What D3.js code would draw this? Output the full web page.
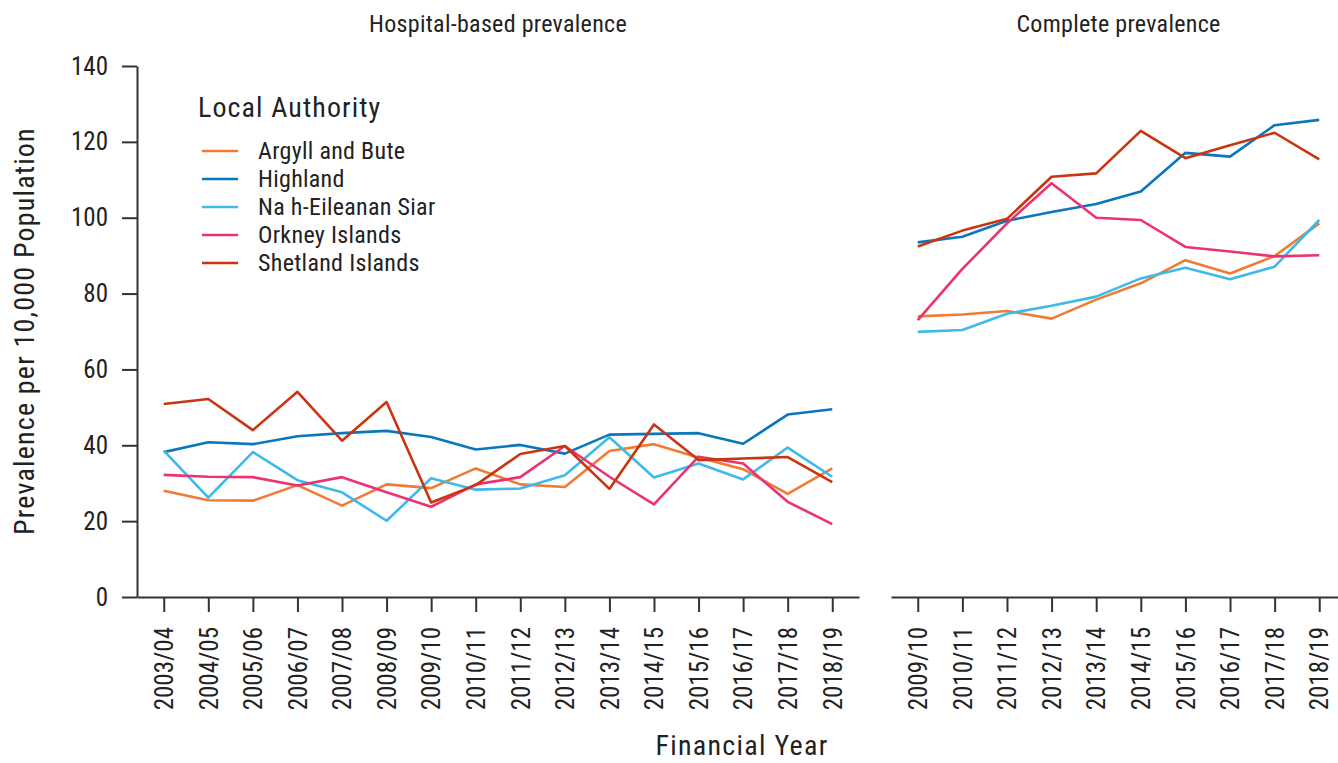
<!DOCTYPE html>
<html><head><meta charset="utf-8">
<script src="https://cdn.jsdelivr.net/npm/d3@7/dist/d3.min.js"></script>
<style>
body{margin:0;background:#fff}
svg text{font-family:'Roboto Condensed','Liberation Sans Narrow','Roboto',sans-serif;fill:#222}
</style>
</head><body>
<svg id="chart" width="1338" height="763"></svg>
<script>
// ---- data ----
const hospitalYears = ["2003/04","2004/05","2005/06","2006/07","2007/08","2008/09","2009/10","2010/11","2011/12","2012/13","2013/14","2014/15","2015/16","2016/17","2017/18","2018/19"];
const completeYears = ["2009/10","2010/11","2011/12","2012/13","2013/14","2014/15","2015/16","2016/17","2017/18","2018/19"];
const authorities = ["Argyll and Bute","Highland","Na h-Eileanan Siar","Orkney Islands","Shetland Islands"];
const authorityColors = ["#F07B35","#0A77BD","#3DB9EA","#EC3273","#C8350F"];
const yTicks = [0,20,40,60,80,100,120,140];

const hospArgyll   = [28.0,25.5,25.4,29.5,24.1,29.7,28.7,33.9,29.7,29.0,38.5,40.3,36.8,33.7,27.2,33.9];
const hospHighland = [38.2,40.8,40.3,42.4,43.2,43.8,42.2,38.9,40.1,37.8,42.8,43.0,43.2,40.4,48.1,49.5];
const hospSiar     = [38.6,26.2,38.2,30.8,27.6,20.1,31.3,28.3,28.6,32.1,42.1,31.5,35.2,31.0,39.4,31.7];
const hospOrkney   = [32.2,31.7,31.6,29.4,31.6,27.6,23.8,29.7,31.6,39.8,31.7,24.4,37.0,35.2,25.1,19.2];
const hospShetland = [50.9,52.2,44.0,54.1,41.2,51.4,24.9,29.5,37.7,39.8,28.5,45.5,36.1,36.5,36.9,30.3];

const compArgyll   = [74.0,74.5,75.4,73.4,78.4,82.7,88.8,85.3,89.9,98.5];
const compHighland = [93.5,95.0,99.2,101.5,103.6,106.9,117.1,116.1,124.4,125.8];
const compSiar     = [69.9,70.4,74.7,76.8,79.2,84.0,86.8,83.8,87.1,99.4];
const compOrkney   = [73.0,86.5,98.5,109.1,100.0,99.4,92.3,91.1,89.8,90.1];
const compShetland = [92.4,96.6,99.7,110.8,111.7,122.9,115.7,119.1,122.4,115.4];

const hospitalSeries = [hospArgyll,hospHighland,hospSiar,hospOrkney,hospShetland];
const completeSeries = [compArgyll,compHighland,compSiar,compOrkney,compShetland];

// ---- drawing ----
const svg = d3.select("#chart");
const axisColor = "#333";
const y = d3.scaleLinear().domain([0,140]).range([597,66]);
const color = d3.scaleOrdinal().domain(authorities).range(authorityColors);

const panels = [
  {title:"Hospital-based prevalence", years:hospitalYears, series:hospitalSeries, range:[137,859], yAxis:true},
  {title:"Complete prevalence", years:completeYears, series:completeSeries, range:[891,1346], yAxis:false}
];

panels.forEach(p => {
  const x = d3.scalePoint().domain(p.years).range(p.range).padding(0.6);
  svg.append("text").attr("x",(p.range[0]+p.range[1])/2).attr("y",32)
    .attr("text-anchor","middle").style("font-size","24px").style("letter-spacing","0.3px").text(p.title);

  const gx = svg.append("g").attr("transform","translate(0,597)")
    .call(d3.axisBottom(x).tickSize(15).tickSizeOuter(0).tickPadding(15));
  gx.select(".domain").attr("stroke",axisColor).attr("stroke-width",2);
  gx.selectAll(".tick line").attr("stroke",axisColor).attr("stroke-width",2);
  gx.selectAll(".tick text")
    .attr("transform","rotate(-90)").attr("text-anchor","end")
    .attr("x",-30).attr("y",0).attr("dy","0.35em")
    .style("font-size","25px").attr("fill","#222");

  if (p.yAxis) {
    const gy = svg.append("g").attr("transform",`translate(${p.range[0]},0)`)
      .call(d3.axisLeft(y).tickValues(yTicks).tickSize(15).tickSizeOuter(0).tickPadding(14));
    gy.select(".domain").attr("stroke",axisColor).attr("stroke-width",2);
    gy.selectAll(".tick line").attr("stroke",axisColor).attr("stroke-width",2);
    gy.selectAll(".tick text").style("font-size","25px").attr("fill","#222");
  }

  const line = d3.line().x((d,i)=>x(p.years[i])).y(d=>y(d));
  p.series.forEach((vals,k) => {
    svg.append("path").datum(vals).attr("d",line)
      .attr("fill","none").attr("stroke",color(authorities[k]))
      .attr("stroke-width",2.6).attr("stroke-linejoin","round");
  });
});

// axis titles
svg.append("text").attr("transform","translate(34,331) rotate(-90)")
  .attr("text-anchor","middle").style("font-size","28px").style("letter-spacing","1.2px")
  .text("Prevalence per 10,000 Population");
svg.append("text").attr("x",742).attr("y",755)
  .attr("text-anchor","middle").style("font-size","28px").style("letter-spacing","1.3px")
  .text("Financial Year");

// legend
const lg = svg.append("g");
lg.append("text").attr("x",198).attr("y",117).style("font-size","28px").style("letter-spacing","1.1px")
  .text("Local Authority");
authorities.forEach((a,k) => {
  const yy = 151 + k*28;
  lg.append("line").attr("x1",202).attr("x2",238).attr("y1",yy).attr("y2",yy)
    .attr("stroke",color(a)).attr("stroke-width",2.6);
  lg.append("text").attr("x",258).attr("y",yy).attr("dy","0.35em")
    .style("font-size","24px").style("letter-spacing","0.3px").text(a);
});
</script>
</body></html>
